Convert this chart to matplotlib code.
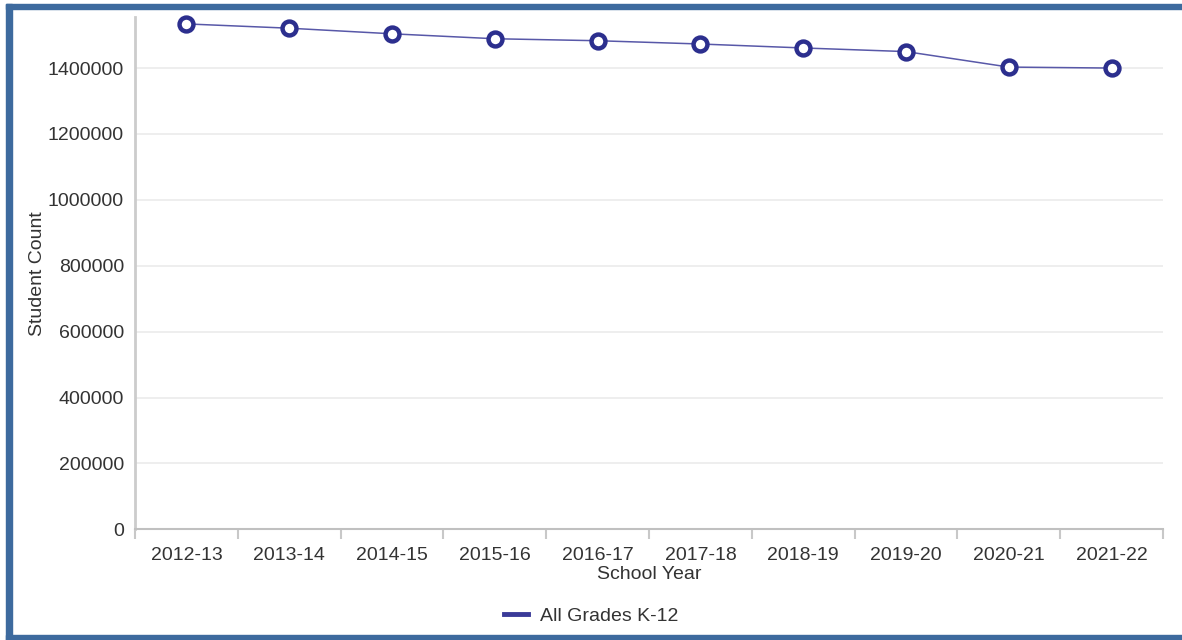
import numpy as np
import matplotlib
matplotlib.use('Agg')
import matplotlib.pyplot as plt
from matplotlib.lines import Line2D
from matplotlib.patches import Rectangle

plt.rcParams['font.family'] = ['Liberation Sans', 'DejaVu Sans']

years = ['2012-13', '2013-14', '2014-15', '2015-16', '2016-17',
         '2017-18', '2018-19', '2019-20', '2020-21', '2021-22']
counts = [1534000, 1521000, 1504000, 1489000, 1483000,
          1473000, 1461000, 1450000, 1403000, 1400000]
yticks = [0, 200000, 400000, 600000, 800000, 1000000, 1200000, 1400000]
series_name = 'All Grades K-12'

W, H = 1182, 640
fig = plt.figure(figsize=(W / 100, H / 100), dpi=100)
ax = fig.add_axes([135 / W, 1 - 529.3 / H, (1163 - 135) / W, (529.3 - 17) / H])

x = np.arange(len(years))
ax.plot(x, counts, color='#5858a8', lw=1.1, marker='o', markersize=10,
        markerfacecolor='white', markeredgecolor='#2c2f8e', markeredgewidth=3.2,
        zorder=3, clip_on=False)

ax.set_xlim(-0.5, len(years) - 0.5)
ax.set_ylim(0, 1555000)

# category boundaries as major ticks, labels on minor ticks at the centres
ax.set_xticks(np.arange(-0.5, len(years), 1.0))
ax.set_xticklabels([])
ax.set_xticks(x, minor=True)
ax.set_xticklabels(years, minor=True)
ax.tick_params(axis='x', which='major', length=7, width=1.5, color='#c8c8c8')
ax.tick_params(axis='x', which='minor', length=0, pad=13, labelsize=14, labelcolor='#333333')

ax.set_yticks(yticks)
ax.set_yticklabels([str(v) for v in yticks])
ax.tick_params(axis='y', length=0, pad=8, labelsize=14, labelcolor='#333333')

ax.grid(axis='y', color='#ebebeb', lw=1.2)
ax.set_axisbelow(True)
for s in ['top', 'right']:
    ax.spines[s].set_visible(False)
ax.spines['left'].set_color('#cccccc')
ax.spines['left'].set_linewidth(2)
ax.spines['bottom'].set_color('#c0c0c0')
ax.spines['bottom'].set_linewidth(1.5)

ax.set_xlabel('School Year', fontsize=14, color='#333333', labelpad=1)
ax.set_ylabel('Student Count', fontsize=14, color='#333333', labelpad=1)

handle = Line2D([], [], color='#3a3a98', lw=3.5)
fig.legend([handle], [series_name], loc='center', bbox_to_anchor=(591 / W, 1 - 616 / H),
           frameon=False, fontsize=14, handlelength=1.25, handletextpad=0.6,
           labelcolor='#333333')

# blue frame around the chart (left, top, bottom)
frame = '#3d6a9e'
fig.patches.append(Rectangle((6 / W, 0), 6 / W, 1 - 4 / H, transform=fig.transFigure,
                             color=frame, zorder=10))
fig.patches.append(Rectangle((6 / W, 1 - 9 / H), 1 - 6 / W, 5 / H, transform=fig.transFigure,
                             color=frame, zorder=10))
fig.patches.append(Rectangle((6 / W, 0), 1 - 6 / W, 5 / H, transform=fig.transFigure,
                             color=frame, zorder=10))

fig.savefig('out.png', dpi=100)
